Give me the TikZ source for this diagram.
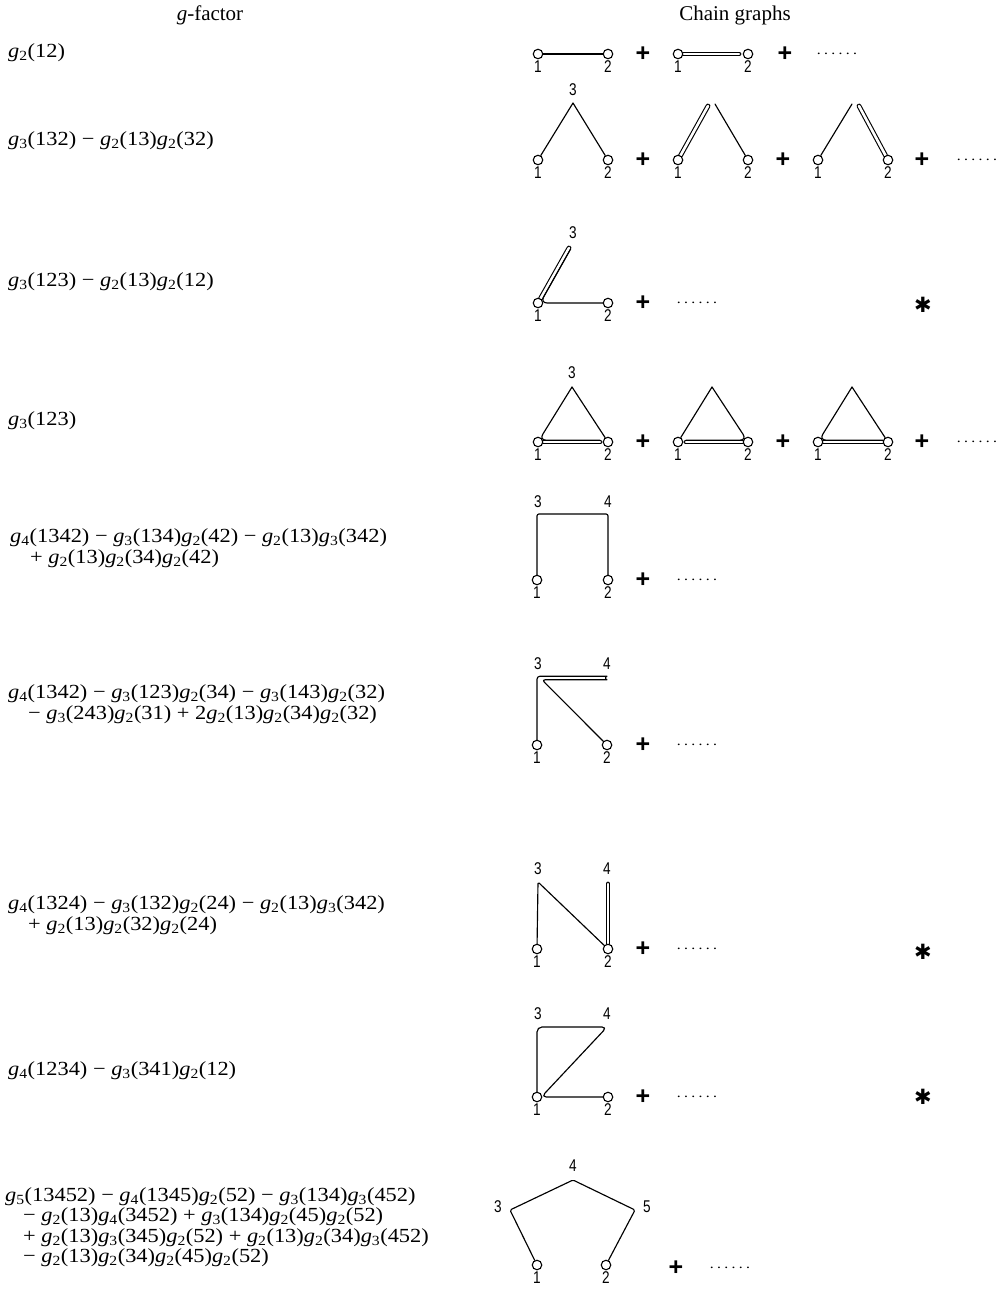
\documentclass[tikz,border=0pt]{standalone}
\usepackage{fontspec}
\setmainfont{Liberation Serif}[FakeStretch=1.12]
\newfontfamily\headfont{Liberation Serif}
\newfontfamily\numfont{Liberation Sans}[FakeStretch=0.8]
\newfontfamily\plusfont{Liberation Sans}
\newfontfamily\symfont{DejaVu Sans}
\pgfdeclarelayer{bg}
\pgfsetlayers{bg,main}
\newcommand\gf[1]{\textit{g}\textsubscript{#1}}
\tikzset{
 vtx/.style={circle,draw,line width=1.1pt,fill=white,minimum size=9.5pt,inner sep=0pt},
 edge/.style={line width=1.15pt,line join=round,line cap=round},
 dbl/.style={line width=1.1pt,double,double distance=2.6pt,line cap=round},
 num/.style={font=\numfont\fontsize{17}{17}\selectfont,inner sep=0pt},
 plus/.style={font=\plusfont\bfseries\fontsize{25}{25}\selectfont,inner sep=0pt},
 more/.style={font=\fontsize{14}{14}\selectfont,inner sep=0pt},
 star/.style={font=\symfont\fontsize{21}{21}\selectfont,inner sep=0pt},
 formula/.style={anchor=west,align=left,font=\fontsize{20}{20.5}\selectfont,inner sep=0pt},
 head/.style={font=\headfont\fontsize{21}{21}\selectfont,inner sep=0pt},
}
\newcommand\moredots{.\kern3.3pt.\kern3.3pt.\kern3.3pt.\kern3.3pt.\kern3.3pt.}
\begin{document}
\begin{tikzpicture}[x=1pt,y=-1pt]
\useasboundingbox (0,0) rectangle (998,1291);
% headers
\node[head] (h1) at (210,15) {\textit{g}-factor};
\node[head] (h2) at (735,15) {Chain graphs};
% formulas
\node[formula] (f1) at (8,53) {\gf{2}(12)};
\node[formula] (f2) at (8,141) {\gf{3}(132) − \gf{2}(13)\gf{2}(32)};
\node[formula] (f3) at (8,282) {\gf{3}(123) − \gf{2}(13)\gf{2}(12)};
\node[formula] (f4) at (8,421) {\gf{3}(123)};
\node[formula] (f5) at (10,548) {\gf{4}(1342) − \gf{3}(134)\gf{2}(42) − \gf{2}(13)\gf{3}(342)\\\hspace*{20pt}+ \gf{2}(13)\gf{2}(34)\gf{2}(42)};
\node[formula] (f6) at (8,704) {\gf{4}(1342) − \gf{3}(123)\gf{2}(34) − \gf{3}(143)\gf{2}(32)\\\hspace*{20pt}− \gf{3}(243)\gf{2}(31) + 2\gf{2}(13)\gf{2}(34)\gf{2}(32)};
\node[formula] (f7) at (8,915) {\gf{4}(1324) − \gf{3}(132)\gf{2}(24) − \gf{2}(13)\gf{3}(342)\\\hspace*{20pt}+ \gf{2}(13)\gf{2}(32)\gf{2}(24)};
\node[formula] (f8) at (8,1071) {\gf{4}(1234) − \gf{3}(341)\gf{2}(12)};
\node[formula] (f9) at (5,1227) {\gf{5}(13452) − \gf{4}(1345)\gf{2}(52) − \gf{3}(134)\gf{3}(452)\\\hspace*{18pt}− \gf{2}(13)\gf{4}(3452) + \gf{3}(134)\gf{2}(45)\gf{2}(52)\\\hspace*{18pt}+ \gf{2}(13)\gf{3}(345)\gf{2}(52) + \gf{2}(13)\gf{2}(34)\gf{3}(452)\\\hspace*{18pt}− \gf{2}(13)\gf{2}(34)\gf{2}(45)\gf{2}(52)};

% ---------- row 1
\node[vtx] (a1) at (538,54) {}; \node[vtx] (a2) at (608,54) {};
\node[num] (la1) at (538,67) {1}; \node[num] (la2) at (608,67) {2};
\node[plus] (p1a) at (643,54) {+};
\node[vtx] (b1) at (678,54) {}; \node[vtx] (b2) at (748,54) {};
\node[num] (lb1) at (678,67) {1}; \node[num] (lb2) at (748,67) {2};
\node[plus] (p1b) at (785,54) {+};
\node[more] (m1) at (837,54) {\moredots};
\coordinate (b2e) at (739,54);
\begin{pgfonlayer}{bg}
\draw[edge] (a1) -- (a2);
\draw[dbl] (b1) -- (b2e);
\end{pgfonlayer}

% ---------- row 2
\node[vtx] (c1) at (538,160) {}; \node[vtx] (c2) at (608,160) {};
\coordinate (c3) at (573,103);
\node[num] (lc1) at (538,173) {1}; \node[num] (lc2) at (608,173) {2}; \node[num] (lc3) at (573,90) {3};
\node[plus] (p2a) at (643,160) {+};
\node[vtx] (d1) at (678,160) {}; \node[vtx] (d2) at (748,160) {};
\coordinate (d3) at (715,104); \coordinate (d3d) at (708,106);
\node[num] (ld1) at (678,173) {1}; \node[num] (ld2) at (748,173) {2};
\node[plus] (p2b) at (783,160) {+};
\node[vtx] (e1) at (818,160) {}; \node[vtx] (e2) at (888,160) {};
\coordinate (e3) at (852,104); \coordinate (e3d) at (859,106);
\node[num] (le1) at (818,173) {1}; \node[num] (le2) at (888,173) {2};
\node[plus] (p2c) at (922,160) {+};
\node[more] (m2) at (977,160) {\moredots};
\begin{pgfonlayer}{bg}
\draw[edge] (c1) -- (c3) -- (c2);
\draw[dbl] (d1) -- (d3d);
\draw[edge] (d3) -- (d2);
\draw[edge] (e1) -- (e3);
\draw[dbl] (e3d) -- (e2);
\end{pgfonlayer}

% ---------- row 3
\node[vtx] (g1) at (538,303) {}; \node[vtx] (g2) at (608,303) {};
\coordinate (g3) at (569,248);
\coordinate (g3i) at (570.6,248.9); \coordinate (g1c) at (540.2,303);
\node[num] (lg1) at (538,316) {1}; \node[num] (lg2) at (608,316) {2}; \node[num] (lg3) at (573,233) {3};
\node[plus] (p3) at (643,303) {+};
\node[more] (m3) at (697,303) {\moredots};
\node[star] (s3) at (923,305) {✱};
\begin{pgfonlayer}{bg}
\draw[dbl] (g1) -- (g3);
\draw[edge,rounded corners=7pt] (g3i) -- (g1c) -- (g2);
\end{pgfonlayer}

% ---------- row 4
\node[vtx] (i1) at (538,442) {}; \node[vtx] (i2) at (608,442) {};
\coordinate (i3) at (572,387);
\node[num] (li1) at (538,455) {1}; \node[num] (li2) at (608,455) {2}; \node[num] (li3) at (572,373) {3};
\node[plus] (p4a) at (643,442) {+};
\node[vtx] (j1) at (678,442) {}; \node[vtx] (j2) at (748,442) {};
\coordinate (j3) at (712,387);
\node[num] (lj1) at (678,455) {1}; \node[num] (lj2) at (748,455) {2};
\node[plus] (p4b) at (783,442) {+};
\node[vtx] (k1) at (818,442) {}; \node[vtx] (k2) at (888,442) {};
\coordinate (k3) at (852,387);
\node[num] (lk1) at (818,455) {1}; \node[num] (lk2) at (888,455) {2};
\node[plus] (p4c) at (922,442) {+};
\node[more] (m4) at (977,442) {\moredots};
\coordinate (i2d) at (600,442); \coordinate (i1c) at (539.1,440.15); \coordinate (i2u) at (600,440.15);
\coordinate (j1d) at (686,442); \coordinate (j2c) at (746.9,440.15); \coordinate (j1u) at (686,440.15);
\coordinate (k2d) at (883,442); \coordinate (k1c) at (819.1,440.15); \coordinate (k2u) at (883,440.15);
\begin{pgfonlayer}{bg}
\draw[dbl] (i1) -- (i2d);
\draw[edge,rounded corners=7pt] (i3) -- (i1c) -- (i2u);
\draw[edge] (i3) -- (i2);
\draw[dbl] (j1d) -- (j2);
\draw[edge,rounded corners=7pt] (j3) -- (j2c) -- (j1u);
\draw[edge] (j3) -- (j1);
\draw[dbl] (k1) -- (k2d);
\draw[edge,rounded corners=7pt] (k3) -- (k1c) -- (k2u);
\draw[edge] (k3) -- (k2);
\end{pgfonlayer}

% ---------- row 5
\node[vtx] (n1) at (537,580) {}; \node[vtx] (n2) at (608,580) {};
\coordinate (n3) at (537,514); \coordinate (n4) at (608,514);
\node[num] (ln1) at (537,593) {1}; \node[num] (ln2) at (608,593) {2};
\node[num] (ln3) at (538,502) {3}; \node[num] (ln4) at (608,502) {4};
\node[plus] (p5) at (643,580) {+};
\node[more] (m5) at (697,580) {\moredots};
\begin{pgfonlayer}{bg}
\draw[edge,rounded corners=2pt] (n1) -- (n3) -- (n4) -- (n2);
\end{pgfonlayer}

% ---------- row 6
\node[vtx] (q1) at (537,745) {}; \node[vtx] (q2) at (607,745) {};
\coordinate (q3) at (537,676.2); \coordinate (q4u) at (604,676.2);
\coordinate (q4l) at (604,679.8); \coordinate (q3l) at (542,679.8);
\node[num] (lq1) at (537,758) {1}; \node[num] (lq2) at (607,758) {2};
\node[num] (lq3) at (538,664) {3}; \node[num] (lq4) at (607,664) {4};
\node[plus] (p6) at (643,745) {+};
\node[more] (m6) at (697,745) {\moredots};
\begin{pgfonlayer}{bg}
\draw[edge,rounded corners=3pt] (q1) -- (q3) -- (q4u) arc[start angle=-90,end angle=90,radius=1.8] -- (q3l) -- (q2);
\end{pgfonlayer}

% ---------- row 7
\node[vtx] (r1) at (537,949) {}; \node[vtx] (r2) at (608,949) {};
\coordinate (r3) at (538,882); \coordinate (r4) at (608,884);
\node[num] (lr1) at (537,962) {1}; \node[num] (lr2) at (608,962) {2};
\node[num] (lr3) at (538,869) {3}; \node[num] (lr4) at (607,869) {4};
\node[plus] (p7) at (643,949) {+};
\node[more] (m7) at (697,949) {\moredots};
\node[star] (s7) at (923,952) {✱};
\begin{pgfonlayer}{bg}
\draw[dbl] (r2) -- (r4);
\draw[edge,rounded corners=1.5pt] (r1) -- (r3) -- (r2);
\end{pgfonlayer}

% ---------- row 8
\node[vtx] (t1) at (537,1097) {}; \node[vtx] (t2) at (608,1097) {};
\coordinate (t3) at (537,1027); \coordinate (t4) at (607,1027); \coordinate (t1c) at (541.3,1097);
\node[num] (lt1) at (537,1110) {1}; \node[num] (lt2) at (608,1110) {2};
\node[num] (lt3) at (538,1014) {3}; \node[num] (lt4) at (607,1014) {4};
\node[plus] (p8) at (643,1097) {+};
\node[more] (m8) at (697,1097) {\moredots};
\node[star] (s8) at (923,1097) {✱};
\begin{pgfonlayer}{bg}
\draw[edge,rounded corners=5pt] (t1) -- (t3) -- (t4) -- (t1c) -- (t2);
\end{pgfonlayer}

% ---------- row 9
\node[vtx] (u1) at (537,1265) {}; \node[vtx] (u2) at (606,1265) {};
\coordinate (u3) at (510,1210); \coordinate (u4) at (573,1180); \coordinate (u5) at (635,1210);
\node[num] (lu1) at (537,1278) {1}; \node[num] (lu2) at (606,1278) {2};
\node[num] (lu3) at (498,1207) {3}; \node[num] (lu4) at (573,1166) {4}; \node[num] (lu5) at (647,1207) {5};
\node[plus] (p9) at (676,1268) {+};
\node[more] (m9) at (730,1268) {\moredots};
\begin{pgfonlayer}{bg}
\draw[edge,rounded corners=1.5pt] (u1) -- (u3) -- (u4) -- (u5) -- (u2);
\end{pgfonlayer}
\end{tikzpicture}
\end{document}
